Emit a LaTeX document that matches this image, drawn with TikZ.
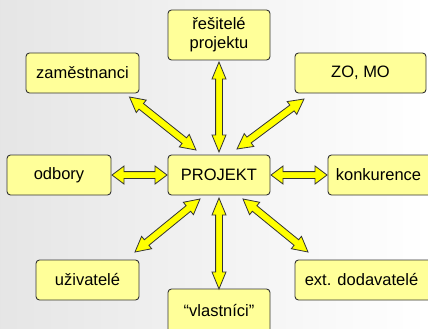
\documentclass[tikz,border=0pt]{standalone}
\usepackage{fontspec}
\setmainfont{Liberation Sans}
\usetikzlibrary{calc}
\definecolor{boxfill}{HTML}{FFFF99}
\definecolor{arrfill}{HTML}{FFFF00}
\definecolor{edge}{HTML}{333333}
\tikzset{
  box/.style={draw=edge, line width=0.9pt, fill=boxfill, rounded corners=3.5pt,
    inner sep=0pt, align=center, font=\fontsize{16.5}{19}\selectfont},
  arr/.style={draw=edge, line width=0.8pt, fill=arrfill, line join=miter}
}
\newcommand\dblarr[5]{%
  \coordinate (pA) at ($(#1)!#3!(#2)$);
  \coordinate (pB) at ($(#2)!#3!(#1)$);
  \draw[arr] (#1) -- ($(pA)!#4!-90:(#2)$) -- ($(pA)!#5!-90:(#2)$)
    -- ($(pB)!#5!90:(#1)$) -- ($(pB)!#4!90:(#1)$) -- (#2)
    -- ($(pB)!#4!-90:(#1)$) -- ($(pB)!#5!-90:(#1)$)
    -- ($(pA)!#5!90:(#2)$) -- ($(pA)!#4!90:(#2)$) -- cycle;}
\begin{document}
\begin{tikzpicture}[x=1pt,y=-1pt]
  \path[use as bounding box] (0,0) rectangle (428,329);
  \clip (0,0) rectangle (428,329);
  \shade[left color=black!10, right color=white] (0,0) rectangle (428,329);
  % boxes
  \node[box, minimum width=102pt, minimum height=50pt] (res) at (219,35) {řešitelé\\projektu};
  \node[box, minimum width=113pt, minimum height=40pt] (zam) at (82.5,73) {zaměstnanci};
  \node[box, minimum width=131pt, minimum height=40pt] (zomo) at (360.5,73) {ZO, MO};
  \node[box, minimum width=104pt, minimum height=40pt] (odb) at (59,175) {odbory};
  \node[box, minimum width=102pt, minimum height=40pt] (proj) at (219,175) {PROJEKT};
  \node[box, minimum width=104pt, minimum height=40pt] (konk) at (380,175) {\hspace*{-3pt}konkurence};
  \node[box, minimum width=103pt, minimum height=40pt] (uziv) at (87.5,280) {uživatelé};
  \node[box, minimum width=137pt, minimum height=40pt] (ext) at (363.5,280) {\hspace*{-4pt}ext. dodavatelé};
  \node[box, minimum width=102pt, minimum height=44pt] (vla) at (219,311) {\raisebox{2pt}{“vlastníci”}};
  % arrow end points
  \coordinate (t1) at (219,62);   \coordinate (t2) at (219,152);
  \coordinate (z1) at (129.5,97); \coordinate (z2) at (196,150);
  \coordinate (m1) at (304,99);   \coordinate (m2) at (237,149);
  \coordinate (o1) at (112,175);  \coordinate (o2) at (167,175);
  \coordinate (k1) at (271,175);  \coordinate (k2) at (327,175);
  \coordinate (u1) at (200,199);  \coordinate (u2) at (135,252);
  \coordinate (v1) at (219,198);  \coordinate (v2) at (219,289);
  \coordinate (e1) at (243,199);  \coordinate (e2) at (308,252);
  % arrows
  \dblarr{t1}{t2}{17pt}{7pt}{3.4pt}
  \dblarr{v1}{v2}{17pt}{7pt}{3.4pt}
  \dblarr{o1}{o2}{12pt}{9pt}{3.4pt}
  \dblarr{k1}{k2}{12pt}{9pt}{3.4pt}
  \dblarr{z1}{z2}{15pt}{8pt}{3.6pt}
  \dblarr{m1}{m2}{15pt}{8pt}{3.6pt}
  \dblarr{u1}{u2}{15pt}{8pt}{3.6pt}
  \dblarr{e1}{e2}{15pt}{8pt}{3.6pt}
\end{tikzpicture}
\end{document}
